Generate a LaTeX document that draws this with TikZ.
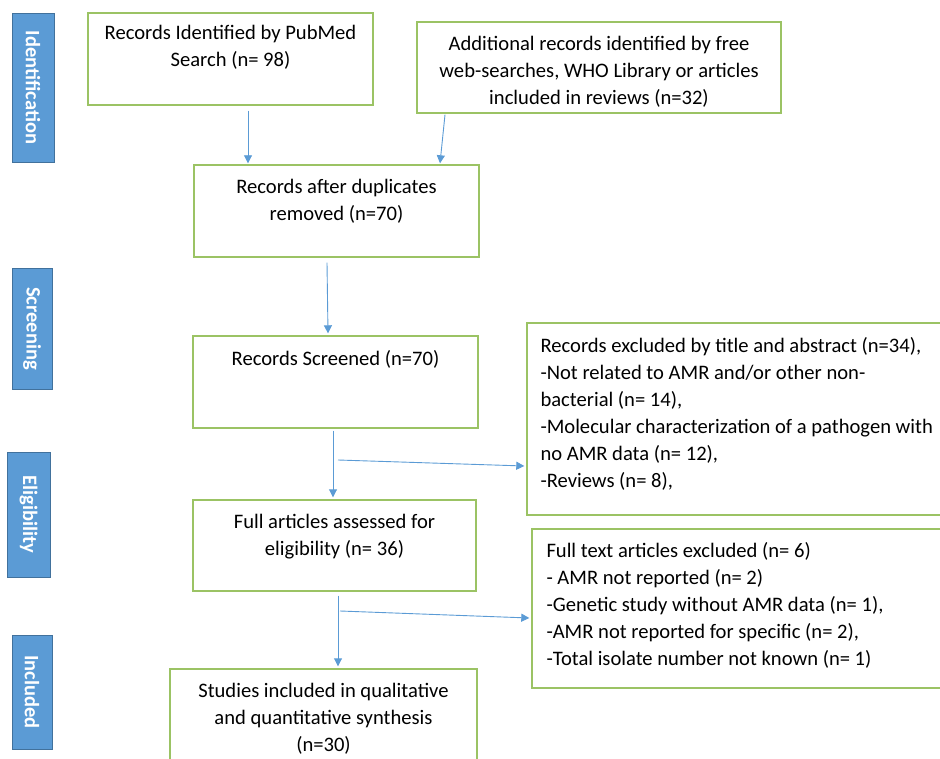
\documentclass[tikz,border=0pt]{standalone}
\usepackage{fontspec}
\setmainfont{Carlito}
\usetikzlibrary{arrows.meta}
\definecolor{boxgreen}{RGB}{155,195,100}
\definecolor{arrblue}{RGB}{91,155,213}
\definecolor{barfill}{RGB}{91,155,213}
\definecolor{barline}{RGB}{65,113,156}
\tikzset{
  x=1pt, y=1pt,
  flowbox/.style={draw=boxgreen, line width=1.4pt, minimum width=#1, inner sep=0pt},
  stagebar/.style={draw=barline, fill=barfill, line width=0.8pt, inner sep=0pt},
  stagetext/.style={rotate=-90, text=white, font=\fontsize{20.5}{24}\selectfont\bfseries},
  boxtext/.style={anchor=north, inner sep=0pt, align=center, font=\fontsize{20.6}{27}\selectfont},
  listtext/.style={anchor=north west, inner sep=0pt, align=left, font=\fontsize{20.6}{27}\selectfont},
  arr/.style={draw=arrblue, line width=0.9pt, -{Triangle[width=8pt,length=8pt]}}
}
\begin{document}
\begin{tikzpicture}
\useasboundingbox (0,0) rectangle (940,-759);
\clip (0,0) rectangle (940,-759);
% stage bars
\node[stagebar, minimum width=42pt, minimum height=149pt] (idbar) at (33,-87.5) {};
\node[stagetext] at (idbar.center) {Identification};
\node[stagebar, minimum width=40pt, minimum height=121pt] (scrbar) at (32,-328.5) {};
\node[stagetext] at (scrbar.center) {Screening};
\node[stagebar, minimum width=43pt, minimum height=125pt] (elbar) at (28.5,-514.5) {};
\node[stagetext] at (elbar.center) {Eligibility};
\node[stagebar, minimum width=40pt, minimum height=114pt] (inbar) at (32,-692) {};
\node[stagetext] at (inbar.center) {Included};
% boxes
\node[flowbox=285pt, minimum height=92pt] (pubmed) at (230.5,-59) {};
\node[boxtext] at ([yshift=-13pt]pubmed.north) {Records Identified by PubMed\\Search (n= 98)};
\node[flowbox=364pt, minimum height=91pt] (addl) at (599,-67.5) {};
\node[boxtext] at ([yshift=-15pt]addl.north) {Additional records identified by free\\web-searches, WHO Library or articles\\included in reviews (n=32)};
\node[flowbox=285pt, minimum height=92pt] (dup) at (336.5,-211) {};
\node[boxtext] at ([yshift=-15pt]dup.north) {Records after duplicates\\removed (n=70)};
\node[flowbox=285pt, minimum height=92pt] (scr) at (335.5,-382) {};
\node[boxtext] at ([yshift=-15pt]scr.north) {Records Screened (n=70)};
\node[flowbox=423pt, minimum height=192pt] (excl1) at (738.5,-419) {};
\node[listtext] at ([xshift=14pt,yshift=-15pt]excl1.north west) {Records excluded by title and abstract (n=34),\\-Not related to AMR and/or other non-\\bacterial (n= 14),\\-Molecular characterization of a pathogen with\\no AMR data (n= 12),\\-Reviews (n= 8),};
\node[flowbox=283pt, minimum height=91pt] (full) at (334.5,-545.5) {};
\node[boxtext] at ([yshift=-15pt]full.north) {Full articles assessed for\\eligibility (n= 36)};
\node[flowbox=418pt, minimum height=159pt] (excl2) at (741,-608.5) {};
\node[listtext] at ([xshift=15pt,yshift=-14pt]excl2.north west) {Full text articles excluded (n= 6)\\- AMR not reported (n= 2)\\-Genetic study without AMR data (n= 1),\\-AMR not reported for specific (n= 2),\\-Total isolate number not known (n= 1)};
\node[flowbox=307pt, minimum height=100pt] (stud) at (323.5,-719) {};
\node[boxtext] at ([yshift=-15pt]stud.north) {Studies included in qualitative\\and quantitative synthesis\\(n=30)};
% connectors
\coordinate (b1) at (338,-460);
\coordinate (b2) at (340,-611);
\draw[arr] ([xshift=17.5pt,yshift=-5pt]pubmed.south) -- ([xshift=-88.5pt,yshift=1pt]dup.north);
\draw[arr] ([xshift=-154pt,yshift=-1pt]addl.south) -- ([xshift=103.5pt,yshift=1pt]dup.north);
\draw[arr] ([xshift=-9.5pt,yshift=-5pt]dup.south) -- ([xshift=-7.5pt,yshift=2pt]scr.north);
\draw[arr] ([xshift=-2.5pt,yshift=-2pt]scr.south) -- ([xshift=-1.5pt,yshift=2pt]full.north);
\draw[arr] (b1) -- ([xshift=-2pt,yshift=-47pt]excl1.west);
\draw[arr] ([xshift=3.5pt,yshift=-4pt]full.south) -- ([xshift=14.5pt,yshift=2pt]stud.north);
\draw[arr] (b2) -- ([xshift=-2pt,yshift=-9.5pt]excl2.west);
\end{tikzpicture}
\end{document}
